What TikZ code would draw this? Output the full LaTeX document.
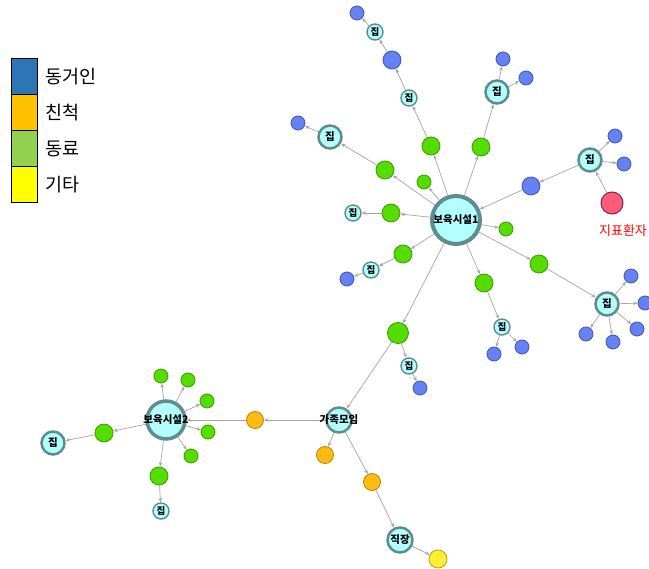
\documentclass[tikz,border=0pt]{standalone}
\usepackage{fontspec}
\setmainfont{Noto Sans CJK KR}
\usetikzlibrary{arrows.meta,backgrounds}
\definecolor{homefill}{HTML}{B3FFFF}
\definecolor{homeline}{HTML}{5F8C8C}
\definecolor{bluefill}{HTML}{6682F2}
\definecolor{blueline}{HTML}{3F55B5}
\definecolor{greenfill}{HTML}{55DD00}
\definecolor{greenline}{HTML}{3C9A00}
\definecolor{orangefill}{HTML}{FFBB11}
\definecolor{orangeline}{HTML}{B58600}
\definecolor{yellowfill}{HTML}{FFEE33}
\definecolor{yellowline}{HTML}{B5A500}
\definecolor{redfill}{HTML}{FF5C7A}
\definecolor{redline}{HTML}{8B2040}
\definecolor{edgegray}{HTML}{A6A6A6}
\definecolor{legblue}{HTML}{2E75B6}
\definecolor{legorange}{HTML}{FFC000}
\definecolor{leggreen}{HTML}{92D050}
\definecolor{legyellow}{HTML}{FFFF00}
\tikzset{
  nd/.style={circle, inner sep=0pt},
  home/.style={nd, fill=homefill, draw=homeline, font=\bfseries\fontsize{9.5}{9.5}\selectfont},
  homeS/.style={home, minimum size=16pt, line width=1.4pt},
  homeB/.style={home, minimum size=23pt, line width=2.5pt, font=\bfseries\fontsize{10.5}{10.5}\selectfont},
  hublabel/.style={label={[font=\bfseries\fontsize{10.5}{10.5}\selectfont, inner sep=0pt]center:#1}},
  hub/.style={nd, fill=homefill, draw=homeline},
  blu/.style={nd, fill=bluefill, draw=blueline, line width=0.8pt, minimum size=14pt},
  bluB/.style={blu, minimum size=18pt},
  grn/.style={nd, fill=greenfill, draw=greenline, line width=0.8pt, minimum size=14pt},
  grnB/.style={grn, minimum size=18pt},
  org/.style={nd, fill=orangefill, draw=orangeline, line width=0.8pt, minimum size=17pt},
  yel/.style={nd, fill=yellowfill, draw=yellowline, line width=0.8pt, minimum size=18pt},
  rd/.style={nd, fill=redfill, draw=redline, line width=1pt, minimum size=22pt},
  edge/.style={draw=edgegray, line width=0.7pt, -{Stealth[length=4.5pt,width=3.5pt]}},
  legbox/.style={draw=black, line width=0.8pt, minimum width=26pt, minimum height=36pt, inner sep=0pt},
  legtext/.style={anchor=west, font=\fontsize{18.5}{18.5}\selectfont, inner sep=0pt}
}
\begin{document}
\begin{tikzpicture}[x=1pt,y=-1pt]
\useasboundingbox (0,0) rectangle (649,569);
% legend
\node[legbox, fill=legblue] (L1) at (24,76.5) {};
\node[legbox, fill=legorange] (L2) at (24,112) {};
\node[legbox, fill=leggreen] (L3) at (24,148) {};
\node[legbox, fill=legyellow] (L4) at (24,184) {};
\node[legtext] (T1) at (45,77) {동거인};
\node[legtext] (T2) at (45,113) {친척};
\node[legtext] (T3) at (45,149) {동료};
\node[legtext] (T4) at (45,185) {기타};
% hubs
\node[hub, minimum size=48pt, line width=4pt, hublabel=보육시설1] (H1) at (456,220) {};
\node[hub, minimum size=38pt, line width=3.5pt, hublabel=보육시설2] (H2) at (166,420) {};
\node[hub, minimum size=25pt, line width=2.5pt, hublabel=가족모임] (G) at (339,420) {};
\node[hub, minimum size=25pt, line width=2.5pt, hublabel=직장] (W) at (400,540) {};
% homes
\node[homeS] (hA) at (375,32) {집};
\node[homeS] (hB) at (409,98) {집};
\node[homeB] (hC) at (497,92) {집};
\node[homeB] (hD) at (330,137) {집};
\node[homeB] (hE) at (590,160) {집};
\node[homeS] (hF) at (353,213) {집};
\node[homeS] (hG) at (371,270) {집};
\node[homeS] (hH) at (502,327) {집};
\node[homeB] (hI) at (607,304) {집};
\node[homeS] (hJ) at (409,366) {집};
\node[homeB] (hK) at (53,443) {집};
\node[homeS] (hL) at (161,511) {집};
% blue
\node[blu] (b1) at (357,13) {};
\node[bluB] (b2) at (392,60) {};
\node[blu] (b3) at (503,59) {};
\node[blu] (b4) at (526,78) {};
\node[blu] (b5) at (298,123) {};
\node[bluB] (b6) at (531,186) {};
\node[blu] (b7) at (615,136) {};
\node[blu] (b8) at (624,164) {};
\node[blu] (b9) at (347,279) {};
\node[blu] (b10) at (494,354) {};
\node[blu] (b11) at (522,347) {};
\node[blu] (b12) at (631,276) {};
\node[blu] (b13) at (645,303) {};
\node[blu] (b14) at (637,329) {};
\node[blu] (b15) at (613,342) {};
\node[blu] (b16) at (586,334) {};
\node[blu] (b17) at (420,388) {};
% green
\node[grnB] (g1) at (431,146) {};
\node[grn] (g2) at (424,182) {};
\node[grnB] (g3) at (481,147) {};
\node[grnB] (g4) at (385,170) {};
\node[grnB] (g5) at (391,213) {};
\node[grn] (g6) at (506,229) {};
\node[grnB] (g7) at (403,254) {};
\node[grnB] (g8) at (484,283) {};
\node[grnB] (g9) at (539,264) {};
\node[grnB, minimum size=21pt] (g10) at (398,333) {};
\node[grnB] (g11) at (104,433) {};
\node[grn] (g12) at (161,376) {};
\node[grn] (g13) at (188,380) {};
\node[grn] (g14) at (207,401) {};
\node[grn] (g15) at (208,432) {};
\node[grn] (g16) at (191,456) {};
\node[grnB] (g17) at (159,476) {};
% orange, yellow, red
\node[org] (o1) at (255,420) {};
\node[org] (o2) at (325,455) {};
\node[org] (o3) at (372,482) {};
\node[yel] (y1) at (438,559) {};
\node[rd] (r1) at (612,203) {};
\node[text=red, font=\fontsize{13}{13}\selectfont, inner sep=0pt] (rl) at (623,231) {지표환자};
% edges
\begin{scope}[on background layer]
\draw[edge] (H1) -- (g1); \draw[edge] (g1) -- (hB); \draw[edge] (hB) -- (b2);
\draw[edge] (b2) -- (hA); \draw[edge] (hA) -- (b1);
\draw[edge] (H1) -- (g3); \draw[edge] (g3) -- (hC); \draw[edge] (hC) -- (b3); \draw[edge] (hC) -- (b4);
\draw[edge] (H1) -- (g4); \draw[edge] (g4) -- (hD); \draw[edge] (hD) -- (b5);
\draw[edge] (H1) -- (g2);
\draw[edge] (r1) -- (hE); \draw[edge] (hE) -- (b6); \draw[edge] (b6) -- (H1);
\draw[edge] (hE) -- (b7); \draw[edge] (hE) -- (b8);
\draw[edge] (H1) -- (g5); \draw[edge] (g5) -- (hF);
\draw[edge] (H1) -- (g6);
\draw[edge] (H1) -- (g7); \draw[edge] (g7) -- (hG); \draw[edge] (hG) -- (b9);
\draw[edge] (H1) -- (g8); \draw[edge] (g8) -- (hH); \draw[edge] (hH) -- (b10); \draw[edge] (hH) -- (b11);
\draw[edge] (H1) -- (g9); \draw[edge] (g9) -- (hI);
\draw[edge] (hI) -- (b12); \draw[edge] (hI) -- (b13); \draw[edge] (hI) -- (b14);
\draw[edge] (hI) -- (b15); \draw[edge] (hI) -- (b16);
\draw[edge] (H1) -- (g10); \draw[edge] (g10) -- (hJ); \draw[edge] (hJ) -- (b17);
\draw[edge] (g10) -- (G);
\draw[edge] (G) -- (o1); \draw[edge] (o1) -- (H2);
\draw[edge] (G) -- (o2);
\draw[edge] (G) -- (o3); \draw[edge] (o3) -- (W); \draw[edge] (W) -- (y1);
\draw[edge] (H2) -- (g11); \draw[edge] (g11) -- (hK);
\draw[edge] (H2) -- (g12); \draw[edge] (H2) -- (g13); \draw[edge] (H2) -- (g14);
\draw[edge] (H2) -- (g15); \draw[edge] (H2) -- (g16);
\draw[edge] (H2) -- (g17); \draw[edge] (g17) -- (hL);
\end{scope}
\end{tikzpicture}
\end{document}
